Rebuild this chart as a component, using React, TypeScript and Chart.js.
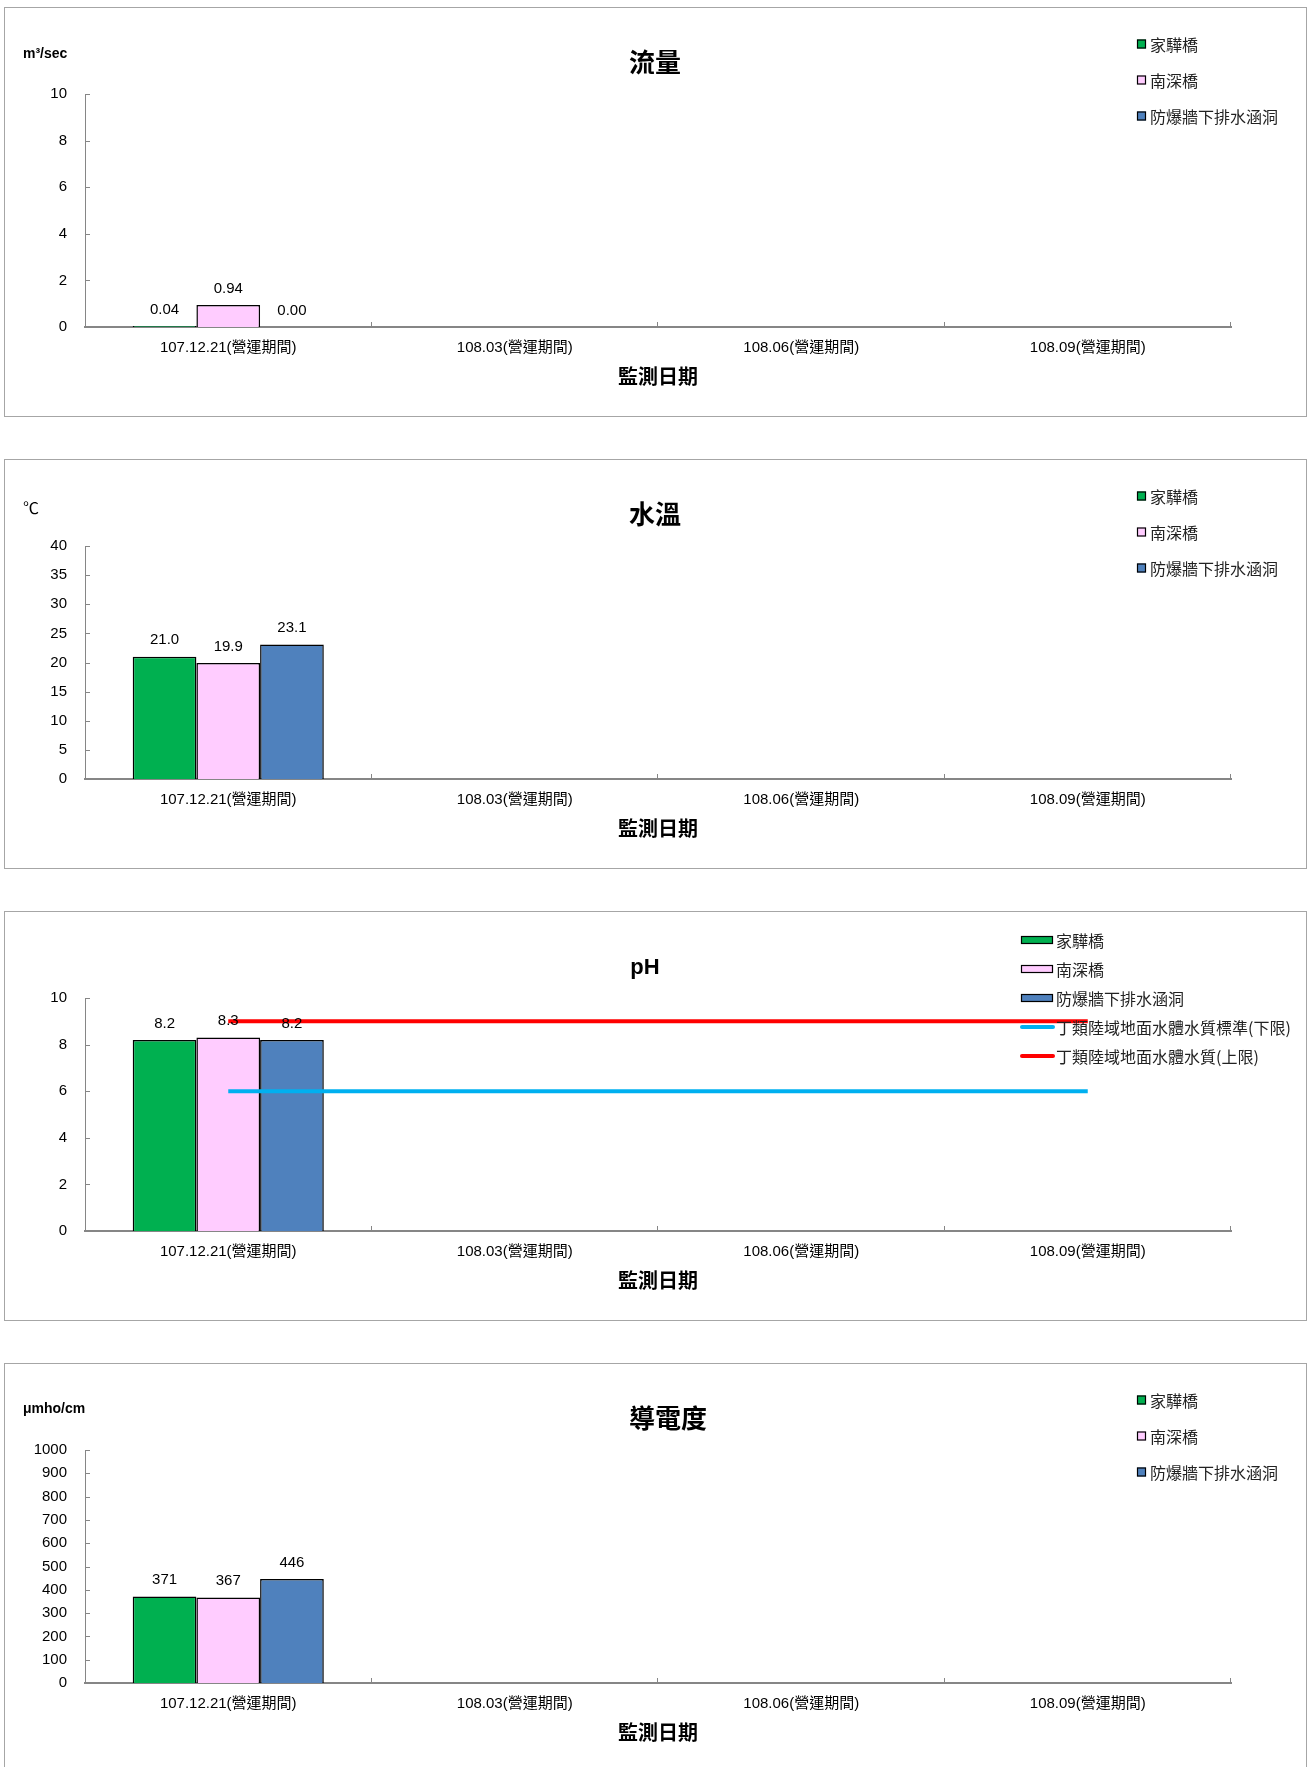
import React, { useEffect, useRef } from 'react';
import { Chart, registerables } from 'chart.js';

Chart.register(...registerables);

// ---------------- data ----------------
const categories = ['107.12.21(營運期間)', '108.03(營運期間)', '108.06(營運期間)', '108.09(營運期間)'];
const stationNames = ['家驊橋', '南深橋', '防爆牆下排水涵洞'];
const stationColors = ['#00B050', '#FFCCFF', '#4F81BD'];

const flowJiahua = [0.04, null, null, null];
const flowNanshen = [0.94, null, null, null];
const flowCulvert = [0.0, null, null, null];
const flowTicks = [0, 2, 4, 6, 8, 10];

const tempJiahua = [21.0, null, null, null];
const tempNanshen = [19.9, null, null, null];
const tempCulvert = [23.1, null, null, null];
const tempTicks = [0, 5, 10, 15, 20, 25, 30, 35, 40];

const phJiahua = [8.2, null, null, null];
const phNanshen = [8.3, null, null, null];
const phCulvert = [8.2, null, null, null];
const phLowerLimit = [6, 6, 6, 6];
const phUpperLimit = [9, 9, 9, 9];
const phLimitNames = ['丁類陸域地面水體水質標準(下限)', '丁類陸域地面水體水質(上限)'];
const phLimitColors = ['#00B0F0', '#FF0000'];
const phTicks = [0, 2, 4, 6, 8, 10];

const condJiahua = [371, null, null, null];
const condNanshen = [367, null, null, null];
const condCulvert = [446, null, null, null];
const condTicks = [0, 100, 200, 300, 400, 500, 600, 700, 800, 900, 1000];

const xAxisTitle = '監測日期';

// ---------------- styling ----------------
const LATIN = '"Liberation Sans", "Noto Sans CJK TC", sans-serif';
const CJK = '"Noto Sans CJK TC", "Liberation Sans", sans-serif';
const AXIS_GRAY = '#868686';

const CANVAS_W = 1301;
const CANVAS_H = 408;

type LegendStyle = { x: number; y0: number; dy: number; boxW: number; boxH: number; textGap: number };

type PanelCfg = {
  title: string;
  titleX: number;
  titleY: number;
  titleFont: string;
  titleSize: number;
  unit: string;
  unitBold: boolean;
  unitSize: number;
  unitY: number;
  ticks: number[];
  decimals: number;
  series: (number | null)[][];
  limits?: number[][];
  legend: LegendStyle;
};

const boxLegend: LegendStyle = { x: 1132, y0: 36, dy: 36, boxW: 9, boxH: 9, textGap: 4 };
const wideLegend: LegendStyle = { x: 1016, y0: 28, dy: 29, boxW: 32, boxH: 8, textGap: 3 };

const panels: PanelCfg[] = [
  {
    title: '流量', titleX: 650, titleY: 54, titleFont: CJK, titleSize: 26,
    unit: 'm³/sec', unitBold: true, unitSize: 14, unitY: 46,
    ticks: flowTicks, decimals: 2,
    series: [flowJiahua, flowNanshen, flowCulvert],
    legend: boxLegend,
  },
  {
    title: '水溫', titleX: 650, titleY: 54, titleFont: CJK, titleSize: 26,
    unit: '℃', unitBold: false, unitSize: 16, unitY: 50,
    ticks: tempTicks, decimals: 1,
    series: [tempJiahua, tempNanshen, tempCulvert],
    legend: boxLegend,
  },
  {
    title: 'pH', titleX: 640, titleY: 56, titleFont: LATIN, titleSize: 22,
    unit: '', unitBold: false, unitSize: 14, unitY: 46,
    ticks: phTicks, decimals: 1,
    series: [phJiahua, phNanshen, phCulvert],
    limits: [phLowerLimit, phUpperLimit],
    legend: wideLegend,
  },
  {
    title: '導電度', titleX: 663, titleY: 54, titleFont: CJK, titleSize: 26,
    unit: 'μmho/cm', unitBold: true, unitSize: 14, unitY: 45,
    ticks: condTicks, decimals: 0,
    series: [condJiahua, condNanshen, condCulvert],
    legend: boxLegend,
  },
];

const panelTops = [7, 459, 911, 1363];

function makeOverlay(cfg: PanelCfg) {
  return {
    id: 'overlay',
    afterDatasetsDraw(chart: any) {
      const ctx = chart.ctx;
      ctx.save();
      ctx.font = `15px ${LATIN}`;
      ctx.fillStyle = '#000';
      ctx.textAlign = 'center';
      ctx.textBaseline = 'middle';
      chart.data.datasets.forEach((ds: any, di: number) => {
        if (ds.type !== 'bar') return;
        const meta = chart.getDatasetMeta(di);
        meta.data.forEach((el: any, i: number) => {
          const v = ds.data[i];
          if (v === null || v === undefined) return;
          ctx.fillText(Number(v).toFixed(cfg.decimals), el.x, el.y - 16.5);
        });
      });
      ctx.restore();
    },
    afterDraw(chart: any) {
      const ctx = chart.ctx;
      const xs = chart.scales.x;
      const ys = chart.scales.y;
      ctx.save();
      // inside tick marks
      ctx.strokeStyle = AXIS_GRAY;
      ctx.lineWidth = 1;
      ys.ticks.forEach((t: any) => {
        const py = Math.round(ys.getPixelForValue(t.value)) + 0.5;
        if (t.value === ys.min) return;
        ctx.beginPath();
        ctx.moveTo(ys.right, py);
        ctx.lineTo(ys.right + 5, py);
        ctx.stroke();
      });
      const n = categories.length;
      for (let k = 1; k <= n; k++) {
        const px = Math.round(xs.left + (xs.width * k) / n) - 0.5;
        ctx.beginPath();
        ctx.moveTo(px, xs.top);
        ctx.lineTo(px, xs.top - 5);
        ctx.stroke();
      }
      // title
      ctx.fillStyle = '#000';
      ctx.textBaseline = 'middle';
      ctx.textAlign = 'center';
      ctx.font = `bold ${cfg.titleSize}px ${cfg.titleFont}`;
      ctx.fillText(cfg.title, cfg.titleX, cfg.titleY);
      // unit
      if (cfg.unit) {
        ctx.textAlign = 'left';
        ctx.font = `${cfg.unitBold ? 'bold ' : ''}${cfg.unitSize}px ${LATIN}`;
        ctx.fillText(cfg.unit, 18, cfg.unitY);
      }
      // legend
      const L = cfg.legend;
      ctx.font = `16px ${CJK}`;
      ctx.textAlign = 'left';
      chart.data.datasets.forEach((ds: any, i: number) => {
        const cy = L.y0 + i * L.dy;
        if (ds.type === 'bar') {
          ctx.fillStyle = ds.backgroundColor;
          ctx.fillRect(L.x, cy - L.boxH / 2, L.boxW, L.boxH);
          ctx.strokeStyle = '#000';
          ctx.lineWidth = 1.2;
          ctx.strokeRect(L.x + 0.5, cy - L.boxH / 2 + 0.5, L.boxW - 1, L.boxH - 1);
        } else {
          ctx.strokeStyle = ds.borderColor;
          ctx.lineWidth = 4;
          ctx.lineCap = 'round';
          ctx.beginPath();
          ctx.moveTo(L.x + 1, cy);
          ctx.lineTo(L.x + L.boxW, cy);
          ctx.stroke();
        }
        ctx.fillStyle = '#222';
        ctx.fillText(ds.label, L.x + L.boxW + L.textGap, cy + 1);
      });
      ctx.restore();
    },
  };
}

function PanelChart({ cfg, top }: { cfg: PanelCfg; top: number }) {
  const ref = useRef<HTMLCanvasElement>(null);
  useEffect(() => {
    const canvas = ref.current;
    if (!canvas) return;
    const datasets: any[] = cfg.series.map((vals, i) => ({
      type: 'bar',
      label: stationNames[i],
      data: vals,
      backgroundColor: stationColors[i],
      borderColor: '#000',
      borderWidth: 1.5,
      categoryPercentage: 0.667,
      barPercentage: 1.0,
      order: 1,
    }));
    (cfg.limits || []).forEach((vals, i) => {
      datasets.push({
        type: 'line',
        label: phLimitNames[i],
        data: vals,
        borderColor: phLimitColors[i],
        backgroundColor: phLimitColors[i],
        borderWidth: 4,
        pointRadius: 0,
        fill: false,
        order: 0,
      });
    });
    const t = cfg.ticks;
    const chart = new Chart(canvas, {
      type: 'bar',
      data: { labels: categories, datasets },
      options: {
        animation: false,
        responsive: false,
        maintainAspectRatio: false,
        devicePixelRatio: 1,
        layout: { padding: { left: 0, right: CANVAS_W - 1226, top: 86, bottom: 0 } },
        plugins: {
          legend: { display: false },
          title: { display: false },
          tooltip: { enabled: false },
        },
        scales: {
          x: {
            grid: { display: false, drawTicks: false },
            border: { display: true, color: AXIS_GRAY, width: 2 },
            ticks: {
              font: { family: LATIN, size: 15 },
              color: '#000',
              padding: 12,
              maxRotation: 0,
              autoSkip: false,
            },
            title: {
              display: true,
              text: xAxisTitle,
              color: '#000',
              font: { family: CJK, size: 20, weight: 'bold' },
              padding: { top: 0, bottom: 28 },
            },
            afterFit: (s: any) => {
              s.height = 89;
            },
          },
          y: {
            min: t[0],
            max: t[t.length - 1],
            grid: { display: false, drawTicks: false },
            border: { display: true, color: AXIS_GRAY, width: 1 },
            ticks: {
              stepSize: t[1] - t[0],
              font: { family: LATIN, size: 15 },
              color: '#000',
              padding: 18,
              callback: (v: any) => String(v),
            },
            afterFit: (s: any) => {
              s.width = 80;
            },
          },
        },
      } as any,
      plugins: [makeOverlay(cfg)],
    });
    return () => chart.destroy();
  }, [cfg]);
  return (
    <div
      style={{
        position: 'absolute',
        left: 4,
        top,
        width: CANVAS_W + 2,
        height: CANVAS_H + 2,
        border: '1px solid #A6A6A6',
        boxSizing: 'border-box',
        background: '#fff',
      }}
    >
      <canvas ref={ref} width={CANVAS_W} height={CANVAS_H} style={{ display: 'block', width: CANVAS_W, height: CANVAS_H }} />
    </div>
  );
}

export default function App() {
  return (
    <div
      style={{
        position: 'absolute',
        left: 0,
        top: 0,
        width: 1311,
        height: 1767,
        overflow: 'hidden',
        background: '#fff',
      }}
    >
      {panels.map((cfg, i) => (
        <PanelChart key={i} cfg={cfg} top={panelTops[i]} />
      ))}
    </div>
  );
}
